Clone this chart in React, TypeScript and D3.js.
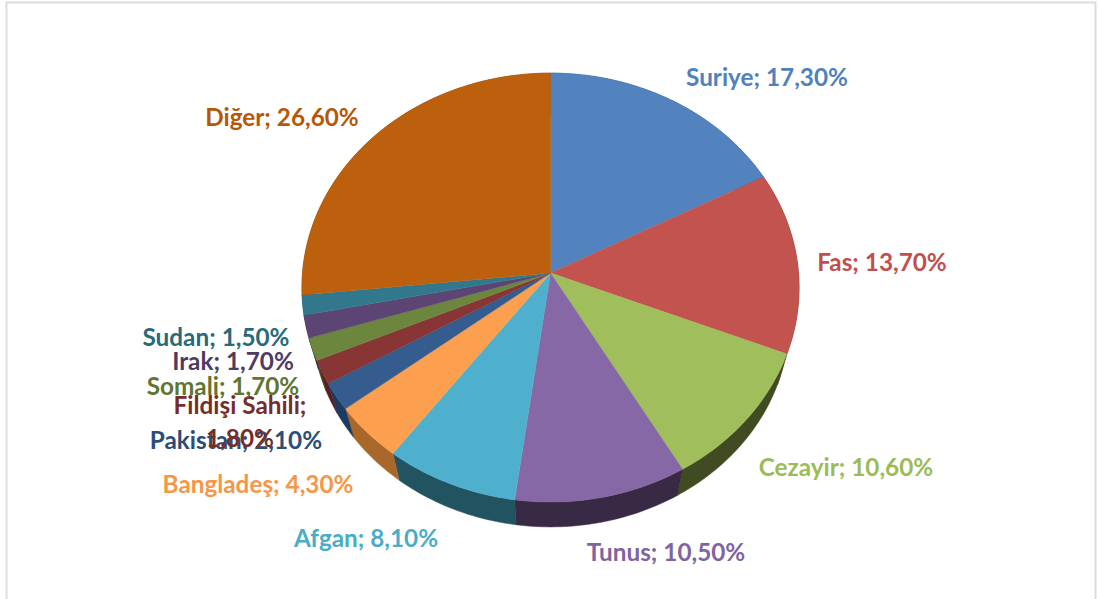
import React from "react";
import * as d3 from "d3";

const categories = ["Suriye","Fas","Cezayir","Tunus","Afgan","Bangladeş","Pakistan","Fildişi Sahili","Somali","Irak","Sudan","Diğer"];
const values = [17.3,13.7,10.6,10.5,8.1,4.3,2.1,1.8,1.7,1.7,1.5,26.6];
const valueLabels = ["17,30%","13,70%","10,60%","10,50%","8,10%","4,30%","2,10%","1,80%","1,70%","1,70%","1,50%","26,60%"];
const topColors = ["#5383be","#c3534f","#a0be5c","#8668a6","#50b0cd","#fca04f","#355b8e","#883535","#6d863c","#5b4474","#30788d","#bd610d"];
const sideColors = ["#2a4567","#6b2b2a","#3f4c20","#372945","#215360","#a9682a","#1e3a62","#5a1f1f","#3d4b1f","#32263f","#1a4753","#7a3a05"];
const textColors = ["#4f81bd","#c0504d","#9bbb59","#8064a2","#4bacc6","#f79646","#2c4d75","#772c2a","#5f7530","#4d3b62","#276a7c","#b65708"];
const labelPos: [number, number][] = [
  [767,86],[882,271],[846,476],[666,561],[366,547],[258,493],
  [236,449],[0,0],[223,395],[233,370],[216,346],[282,126],
];

const W = 1098, H = 599, CX = 550.5, CY = 273, R = 248, S = 213.5, K = 0.068;
const DEPTH = 34, BOTTOM_SCALE = 0.96;

function project(theta: number, scale = 1, dy = 0): [number, number] {
  const u = Math.sin(theta), v = -Math.cos(theta), w = 1 - K * v;
  return [CX + (scale * R * u) / w, CY + dy + (scale * S * v) / w];
}
function arcPts(a0: number, a1: number, scale = 1, dy = 0): [number, number][] {
  const n = Math.max(2, Math.ceil((a1 - a0) / 0.02));
  return d3.range(n + 1).map((i) => project(a0 + ((a1 - a0) * i) / n, scale, dy));
}

export default function App() {
  const pie = d3.pie<number>().sort(null).value((d) => d)(values);
  const line = d3.line();
  const order = d3.range(values.length);
  return (
    <svg width={W} height={H} viewBox={`0 0 ${W} ${H}`} style={{ position: "fixed", left: 0, top: 0, background: "#fff" }}>
      <defs>
        <filter id="soft" x="-5%" y="-5%" width="110%" height="110%"><feGaussianBlur stdDeviation="0.35" /></filter>
      </defs>
      <path d={`M6.5 ${H}V2.5H1095.5V${H}`} fill="none" stroke="#dcdcdc" strokeWidth={2} />
      <g filter="url(#soft)">
        {order.map((i) => {
          const p = pie[i];
          const pts = [...arcPts(p.startAngle, p.endAngle), ...arcPts(p.startAngle, p.endAngle, BOTTOM_SCALE, DEPTH).reverse()];
          return <path key={"s" + i} d={line(pts) + "Z"} fill={sideColors[i]} stroke={sideColors[i]} strokeWidth={0.5} />;
        })}
        {order.map((i) => {
          const p = pie[i];
          const pts: [number, number][] = [[CX, CY], ...arcPts(p.startAngle, p.endAngle)];
          return <path key={"t" + i} d={line(pts) + "Z"} fill={topColors[i]} stroke={topColors[i]} strokeWidth={0.4} />;
        })}
      </g>
      <g fontFamily="Lato, sans-serif" fontWeight={700} fontSize={24.3}>
        {order.map((i) =>
          i === 7 ? (
            <text key={i} fill={textColors[i]} textAnchor="middle">
              <tspan x={240} y={414}>Fildişi Sahili;</tspan>
              <tspan x={240} y={447}>{valueLabels[i]}</tspan>
            </text>
          ) : (
            <text key={i} x={labelPos[i][0]} y={labelPos[i][1]} fill={textColors[i]} textAnchor="middle">
              {categories[i]}; {valueLabels[i]}
            </text>
          )
        )}
      </g>
    </svg>
  );
}
